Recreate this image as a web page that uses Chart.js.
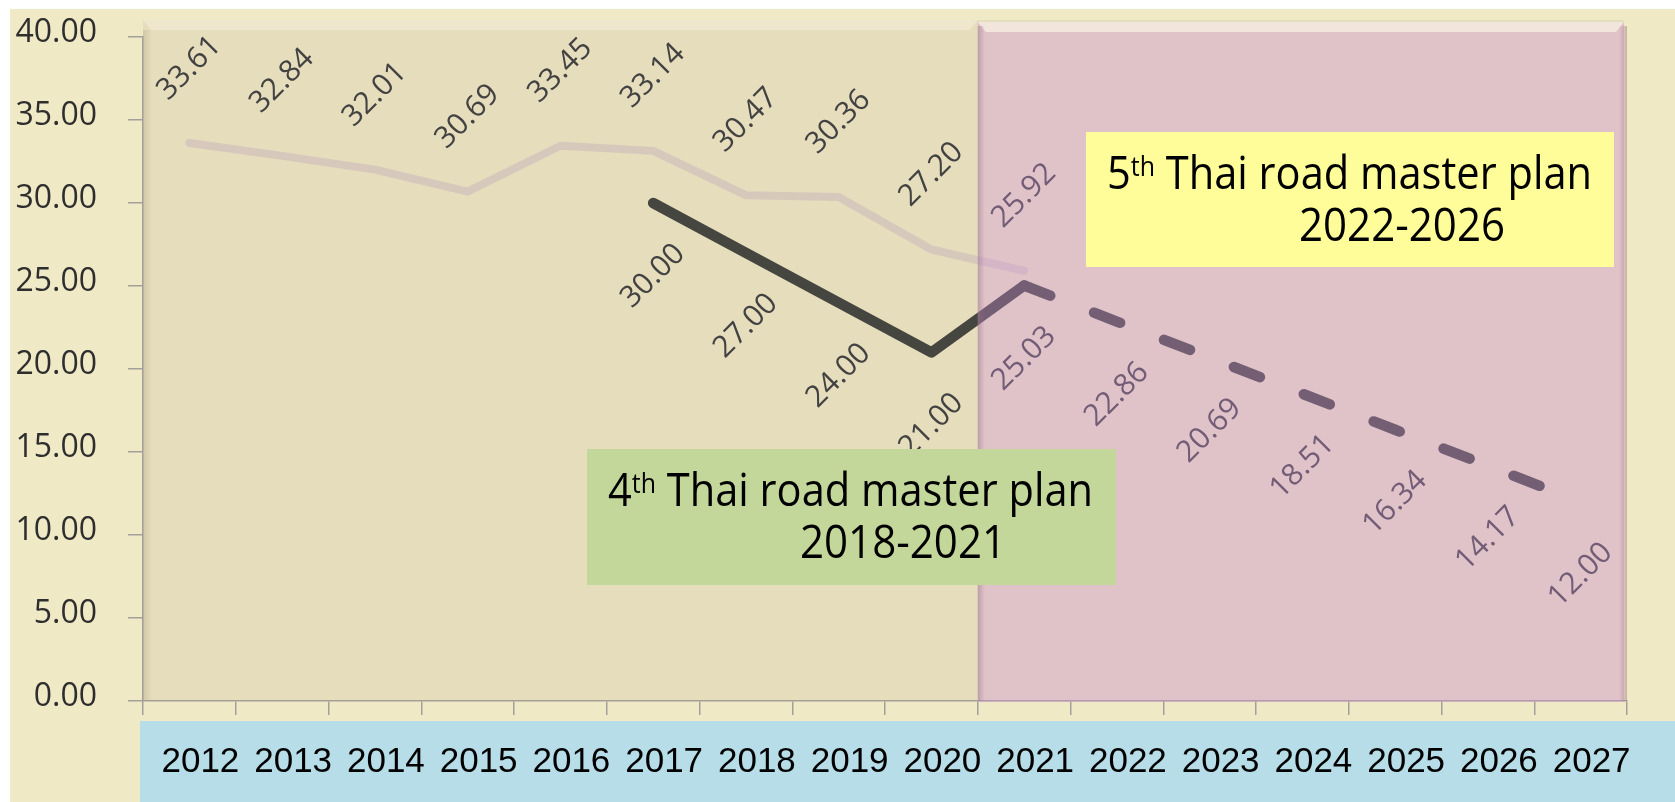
<!DOCTYPE html>
<html lang="en">
<head>
<meta charset="UTF-8" />
<title>Thai road master plan targets</title>
<script src="https://cdn.jsdelivr.net/npm/chart.js"></script>
<style>
  html, body { margin: 0; padding: 0; background: #ffffff; }
  #wrap { width: 1675px; height: 802px; }
</style>
</head>
<body>
<div id="wrap"><canvas id="chart" width="1675" height="802"></canvas></div>
<script>
  // data
  const years = ['2012', '2013', '2014', '2015', '2016', '2017', '2018', '2019',
                 '2020', '2021', '2022', '2023', '2024', '2025', '2026', '2027'];
  const actual = [33.61, 32.84, 32.01, 30.69, 33.45, 33.14, 30.47, 30.36, 27.20, 25.92,
                  null, null, null, null, null, null];
  const targets = [null, null, null, null, null, 30.00, 27.00, 24.00, 21.00, 25.03,
                   22.86, 20.69, 18.51, 16.34, 14.17, 12.00];
  const dashFrom = 9; // 2021 onwards = 5th plan, dashed
  const yTicks = [0, 5, 10, 15, 20, 25, 30, 35, 40];

  const plans = [
    { num: '4', sup: 'th', text: ' Thai road master plan', range: '2018-2021', color: '#C4D79B', x: 587, y: 449, w: 529, h: 136 },
    { num: '5', sup: 'th', text: ' Thai road master plan', range: '2022-2026', color: '#FFFD99', x: 1086, y: 132, w: 528, h: 135 }
  ];

  const FONT_NUM = '"Open Sans", "Noto Sans", sans-serif';

  // backgrounds, value labels, the pink 5th-plan panel and the two text boxes
  const decor = {
    id: 'decor',
    beforeDraw(chart) {
      const c = chart.ctx;
      const x = chart.scales.x;
      const split = x.getPixelForValue(dashFrom) - (x.getPixelForValue(1) - x.getPixelForValue(0)) / 2;
      c.save();
      c.fillStyle = '#ffffff';
      c.fillRect(0, 0, 1675, 802);
      c.fillStyle = '#F0E9C6';
      c.fillRect(10, 9, 1665, 793);
      c.fillStyle = '#B7DDE8';
      c.fillRect(140, 721, 1535, 81);
      // plot panel
      c.fillStyle = '#E6DDBD';
      c.fillRect(143, 20, 1481, 681);
      c.fillStyle = '#EEE7CE';
      c.beginPath();
      c.moveTo(143, 20); c.lineTo(split, 20); c.lineTo(split - 8, 30); c.lineTo(151, 30); c.closePath();
      c.fill();
      const g = c.createLinearGradient(143, 0, 152, 0);
      g.addColorStop(0, 'rgba(190,175,140,0.5)');
      g.addColorStop(1, 'rgba(190,175,140,0)');
      c.fillStyle = g;
      c.fillRect(143, 30, 9, 671);
      c.restore();
    },
    afterDatasetsDraw(chart) {
      const c = chart.ctx;
      const x = chart.scales.x;
      const y = chart.scales.y;
      const split = x.getPixelForValue(dashFrom) - (x.getPixelForValue(1) - x.getPixelForValue(0)) / 2;

      // rotated value labels
      c.save();
      c.font = '30px ' + FONT_NUM;
      c.fillStyle = '#424242';
      c.textAlign = 'center';
      c.textBaseline = 'middle';
      const drawLabels = (vals, dy) => {
        vals.forEach((v, i) => {
          if (v === null) return;
          const px = x.getPixelForValue(i);
          const py = y.getPixelForValue(v) + dy;
          c.save();
          c.translate(px, py);
          c.rotate(-Math.PI / 4);
          c.fillText(v.toFixed(2), 0, 0);
          c.restore();
        });
      };
      drawLabels(actual, -75);
      drawLabels(targets, 73);
      c.restore();

      // translucent pink panel for the 5th plan
      const right = x.right - 3;
      c.save();
      c.fillStyle = 'rgba(209,143,222,0.335)';
      c.fillRect(split, 22, right - split, y.bottom - 22 + 1);
      c.fillStyle = '#F2E5DC';
      c.beginPath();
      c.moveTo(split, 22); c.lineTo(right, 22); c.lineTo(right - 8, 32); c.lineTo(split + 8, 32); c.closePath();
      c.fill();
      let g = c.createLinearGradient(split, 0, split + 7, 0);
      g.addColorStop(0, 'rgba(150,110,130,0.45)');
      g.addColorStop(1, 'rgba(150,110,130,0)');
      c.fillStyle = g;
      c.fillRect(split, 26, 7, y.bottom - 26);
      g = c.createLinearGradient(right - 5, 0, right + 3, 0);
      g.addColorStop(0, 'rgba(150,110,130,0)');
      g.addColorStop(1, 'rgba(150,110,130,0.45)');
      c.fillStyle = g;
      c.fillRect(right - 5, 26, 8, y.bottom - 26);
      c.restore();

      // plan boxes
      plans.forEach(p => {
        c.save();
        c.fillStyle = p.color;
        c.fillRect(p.x, p.y, p.w, p.h);
        c.fillStyle = '#000000';
        c.textBaseline = 'alphabetic';
        c.textAlign = 'left';
        const big = '45px ' + FONT_NUM;
        const small = '27px ' + FONT_NUM;
        c.font = big;
        const nW = c.measureText(p.num).width;
        const tW = c.measureText(p.text).width;
        c.font = small;
        const sW = c.measureText(p.sup).width;
        const sx = 485 / (nW + sW + tW);
        c.save();
        c.translate(p.x + 21, p.y + 57);
        c.scale(sx, 1);
        c.font = big;
        c.fillText(p.num, 0, 0);
        c.font = small;
        c.fillText(p.sup, nW, -13);
        c.font = big;
        c.fillText(p.text, nW + sW, 0);
        c.restore();
        c.font = big;
        const rW = c.measureText(p.range).width;
        c.save();
        c.translate(p.x + 213, p.y + 109);
        c.scale(206 / rW, 1);
        c.fillText(p.range, 0, 0);
        c.restore();
        c.restore();
      });
    }
  };

  const ctx = document.getElementById('chart').getContext('2d');
  new Chart(ctx, {
    type: 'line',
    data: {
      labels: years,
      datasets: [
        {
          label: 'Actual',
          data: actual,
          borderColor: '#D6C9BC',
          borderWidth: 8,
          pointRadius: 0,
          borderCapStyle: 'round',
          borderJoinStyle: 'round',
          tension: 0
        },
        {
          label: 'Target',
          data: targets,
          borderColor: '#45463F',
          borderWidth: 10.5,
          pointRadius: 0,
          borderCapStyle: 'round',
          borderJoinStyle: 'round',
          tension: 0,
          segment: {
            borderDash: c => c.p0DataIndex >= dashFrom ? [28, 47] : undefined
          }
        }
      ]
    },
    options: {
      responsive: false,
      animation: false,
      layout: { padding: { left: 0, right: 48, top: 37, bottom: 0 } },
      plugins: {
        legend: { display: false },
        tooltip: { enabled: false }
      },
      scales: {
        x: {
          offset: true,
          grid: { offset: true, drawOnChartArea: false, tickLength: 14, color: '#A3A09A', lineWidth: 1.5 },
          border: { color: '#A3A09A', width: 1.5 },
          ticks: {
            color: '#000000',
            font: { family: '"Liberation Sans", Arial, sans-serif', size: 35 },
            padding: 26,
            labelOffset: 11,
            maxRotation: 0,
            autoSkip: false
          },
          afterFit: s => { s.height = 101; s.paddingLeft = 0; s.paddingRight = 0; }
        },
        y: {
          min: 0,
          max: 40,
          afterBuildTicks: s => { s.ticks = yTicks.map(v => ({ value: v })); },
          grid: { drawOnChartArea: false, tickLength: 15, color: '#A3A09A', lineWidth: 1.5 },
          border: { color: '#A3A09A', width: 1.5 },
          ticks: {
            color: '#2E2E2E',
            font: { family: FONT_NUM, size: 32 },
            padding: 31,
            labelOffset: -4,
            callback: v => Number(v).toFixed(2)
          },
          afterFit: s => { s.width = 143; s.paddingTop = 0; s.paddingBottom = 0; }
        }
      }
    },
    plugins: [decor]
  });
</script>
</body>
</html>
